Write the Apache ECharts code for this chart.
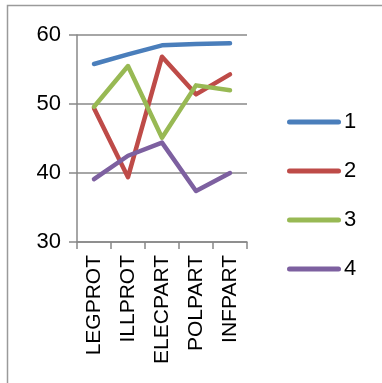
<!DOCTYPE html>
<html>
<head>
<meta charset="utf-8">
<style>
  html, body { margin: 0; padding: 0; background: #fff; }
  #chart { width: 382px; height: 383px; }
</style>
<script src="https://cdn.jsdelivr.net/npm/echarts@6/dist/echarts.min.js"></script>
</head>
<body>
<div id="chart"></div>
<script>
// Participation / protest indicators by group
const categories = ['LEGPROT', 'ILLPROT', 'ELECPART', 'POLPART', 'INFPART'];
const seriesNames = ['1', '2', '3', '4'];
const group1 = [55.8, 57.2, 58.5, 58.7, 58.8];
const group2 = [49.4, 39.4, 56.85, 51.4, 54.3];
const group3 = [49.6, 55.5, 45.1, 52.7, 52.0];
const group4 = [39.1, 42.5, 44.4, 37.4, 40.0];
const yTicks = [30, 40, 50, 60];

const colors = ['#4A7EBB', '#BE4B48', '#98B954', '#7D60A0'];
const values = [group1, group2, group3, group4];
const font = 'Liberation Sans, Arial, sans-serif';
// capsule-shaped legend swatch (line with round caps)
const capsule = 'path://M2.5,0 H51.5 A2.5,2.5 0 0 1 51.5,5 H2.5 A2.5,2.5 0 0 1 2.5,0 Z';

const chart = echarts.init(document.getElementById('chart'), null, { renderer: 'canvas' });

chart.setOption({
  animation: false,
  color: colors,
  grid: { left: 77, right: 135, top: 35, bottom: 141, containLabel: false },
  graphic: [{
    type: 'rect',
    shape: { x: 7.5, y: 5.5, width: 420, height: 420 },
    style: { fill: 'none', stroke: '#9a9a9a', lineWidth: 1.5 },
    silent: true
  }],
  legend: {
    orient: 'vertical',
    left: 282,
    top: 106,
    padding: 5,
    itemWidth: 54,
    itemHeight: 5,
    itemGap: 27,
    icon: capsule,
    textStyle: { fontFamily: font, fontSize: 22, color: '#000', lineHeight: 22, padding: [0, 0, 0, -2] },
    data: seriesNames
  },
  xAxis: {
    type: 'category',
    data: categories,
    boundaryGap: true,
    axisLine: { lineStyle: { color: '#888', width: 1.5 } },
    axisTick: { show: true, length: 7, alignWithLabel: false, lineStyle: { color: '#888', width: 1.5 } },
    axisLabel: {
      rotate: 90,
      interval: 0,
      margin: 13,
      fontFamily: font,
      fontSize: 21,
      color: '#000'
    }
  },
  yAxis: {
    type: 'value',
    min: yTicks[0],
    max: yTicks[yTicks.length - 1],
    interval: 10,
    axisLine: { show: true, lineStyle: { color: '#888', width: 1.5 } },
    axisTick: { show: true, length: 8, lineStyle: { color: '#888', width: 1.5 } },
    splitLine: { show: true, lineStyle: { color: '#888', width: 1.5 } },
    axisLabel: { margin: 16, fontFamily: font, fontSize: 22, color: '#000' }
  },
  series: values.map((v, i) => ({
    name: seriesNames[i],
    type: 'line',
    data: v,
    showSymbol: false,
    symbol: 'none',
    lineStyle: { width: 4.5, cap: 'round', join: 'round', color: colors[i] },
    itemStyle: { color: colors[i] }
  }))
});
</script>
</body>
</html>
